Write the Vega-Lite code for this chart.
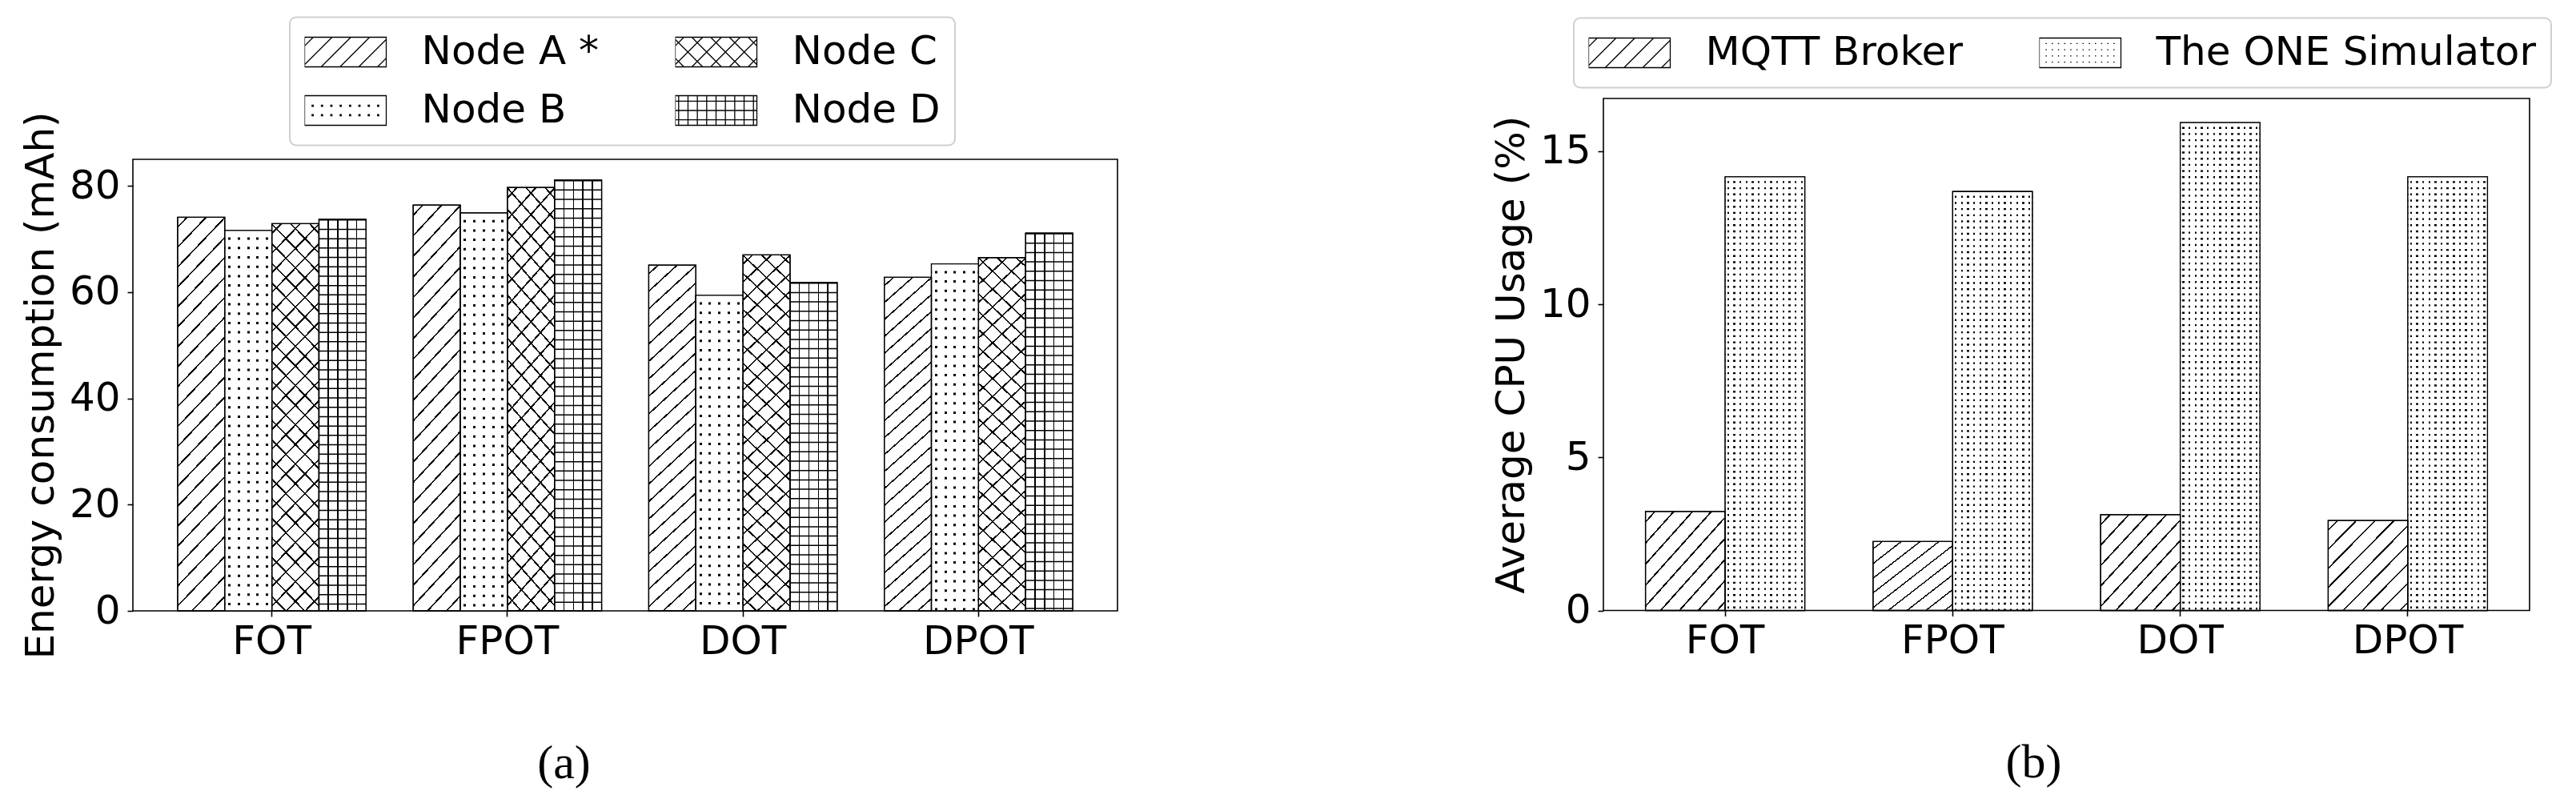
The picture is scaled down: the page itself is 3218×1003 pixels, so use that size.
{
"$schema": "https://vega.github.io/schema/vega-lite/v6.json",
"background": "white",
"padding": {"left": 25, "top": 20, "right": 5, "bottom": 5},
"config": {
  "font": "DejaVu Sans",
  "view": {"stroke": "black", "strokeWidth": 1.6},
  "axis": {"labelColor": "black", "titleColor": "black", "labelFontSize": 50, "titleFontSize": 50, "titleFontWeight": "normal", "tickColor": "black", "tickWidth": 1.6, "tickSize": 7, "domain": false, "grid": false},
  "legend": {"orient": "none", "columns": 2, "title": null, "padding": 18.5, "rowPadding": 23, "columnPadding": 95, "labelOffset": 70, "symbolOffset": 26, "clipHeight": 50, "labelFontSize": 50, "labelLimit": 0, "labelColor": "black", "strokeColor": "#cfcfcf", "strokeWidth": 2, "cornerRadius": 8, "fillColor": "white", "symbolSize": 1664.64, "symbolStrokeWidth": 1.3, "symbolStrokeColor": "black", "symbolFillColor": "white"}
},
"datasets": {
  "energy": [
    {"scheme": "FOT", "node": "Node A *", "value": 74.1},
    {"scheme": "FOT", "node": "Node B", "value": 71.6},
    {"scheme": "FOT", "node": "Node C", "value": 72.9},
    {"scheme": "FOT", "node": "Node D", "value": 73.7},
    {"scheme": "FPOT", "node": "Node A *", "value": 76.4},
    {"scheme": "FPOT", "node": "Node B", "value": 74.9},
    {"scheme": "FPOT", "node": "Node C", "value": 79.7},
    {"scheme": "FPOT", "node": "Node D", "value": 81.1},
    {"scheme": "DOT", "node": "Node A *", "value": 65.1},
    {"scheme": "DOT", "node": "Node B", "value": 59.4},
    {"scheme": "DOT", "node": "Node C", "value": 67.0},
    {"scheme": "DOT", "node": "Node D", "value": 61.8},
    {"scheme": "DPOT", "node": "Node A *", "value": 62.8},
    {"scheme": "DPOT", "node": "Node B", "value": 65.3},
    {"scheme": "DPOT", "node": "Node C", "value": 66.5},
    {"scheme": "DPOT", "node": "Node D", "value": 71.1}
  ],
  "cpu": [
    {"scheme": "FOT", "process": "MQTT Broker", "value": 3.23},
    {"scheme": "FOT", "process": "The ONE Simulator", "value": 14.16},
    {"scheme": "FPOT", "process": "MQTT Broker", "value": 2.25},
    {"scheme": "FPOT", "process": "The ONE Simulator", "value": 13.68},
    {"scheme": "DOT", "process": "MQTT Broker", "value": 3.13},
    {"scheme": "DOT", "process": "The ONE Simulator", "value": 15.93},
    {"scheme": "DPOT", "process": "MQTT Broker", "value": 2.94},
    {"scheme": "DPOT", "process": "The ONE Simulator", "value": 14.16}
  ]
},
"spacing": 465,
"resolve": {"scale": {"x": "independent", "y": "independent", "xOffset": "independent", "fill": "independent"}, "legend": {"fill": "independent"}, "axis": {"x": "independent", "y": "independent"}},
"hconcat": [
{
 "vconcat": [
 {"width": 1230, "height": 75.5, "data": {"values": []}, "mark": "point", "view": {"stroke": null}},
 {
  "width": 1230, "height": 564,
  "data": {"name": "energy"},
  "encoding": {
    "x": {"field": "scheme", "type": "nominal", "sort": ["FOT", "FPOT", "DOT", "DPOT"], "scale": {"paddingInner": 0.2, "paddingOuter": 0.19},
      "axis": {"title": "(a)", "labelAngle": 0, "labelPadding": 6, "titleFont": "Liberation Serif", "titleFontSize": 60, "titleX": 538, "titleY": 190, "titleBaseline": "middle", "titleAlign": "center"}},
    "xOffset": {"field": "node", "type": "nominal", "scale": {"domain": ["Node A *", "Node B", "Node C", "Node D"], "paddingInner": 0, "paddingOuter": 0}},
    "y": {"field": "value", "type": "quantitative", "scale": {"domain": [0, 85], "nice": false},
      "axis": {"title": "Energy consumption (mAh)", "values": [0, 20, 40, 60, 80], "labelPadding": 9, "titlePadding": 10}}
  },
  "layer": [
    {"mark": {"type": "bar", "stroke": "black", "strokeWidth": 1.3},
     "encoding": {"fill": {"field": "node", "type": "nominal",
        "scale": {"domain": ["Node A *", "Node B", "Node C", "Node D"], "range": ["white", "white", "white", "white"]},
        "legend": {"legendX": 196, "legendY": -101.5,
          "encode": {"symbols": {"update": {"fill": {"value": "white"}, "stroke": {"value": "black"}, "strokeWidth": {"value": 1.3}, "size": {"value": 1664.64},
            "shape": {"signal": "datum.value === 'Node A *' ? 'M-2.5,-0.9075H2.5V0.9075H-2.5ZM-2.5,-0.375L-1.9675,-0.9075M-2.5,0.775L-0.8175,-0.9075M-1.4825,0.9075L0.3325,-0.9075M-0.3325,0.9075L1.4825,-0.9075M0.8175,0.9075L2.5,-0.775M1.9675,0.9075L2.5,0.375' : datum.value === 'Node C' ? 'M-2.5,-0.9075H2.5V0.9075H-2.5ZM-2.5,-0.375L-1.9675,-0.9075M-2.5,0.775L-0.8175,-0.9075M-1.4825,0.9075L0.3325,-0.9075M-0.3325,0.9075L1.4825,-0.9075M0.8175,0.9075L2.5,-0.775M1.9675,0.9075L2.5,0.375M2.5,-0.375L1.9675,-0.9075M2.5,0.775L0.8175,-0.9075M1.4825,0.9075L-0.3325,-0.9075M0.3325,0.9075L-1.4825,-0.9075M-0.8175,0.9075L-2.5,-0.775M-1.9675,0.9075L-2.5,0.375' : datum.value === 'Node B' ? 'M-2.5,-0.9075H2.5V0.9075H-2.5ZM-2.0425,-0.325h0.075v0.075h-0.075zM-1.47,-0.325h0.075v0.075h-0.075zM-0.8975,-0.325h0.075v0.075h-0.075zM-0.325,-0.325h0.075v0.075h-0.075zM0.25,-0.325h0.075v0.075h-0.075zM0.8225,-0.325h0.075v0.075h-0.075zM1.395,-0.325h0.075v0.075h-0.075zM1.9675,-0.325h0.075v0.075h-0.075zM-2.0425,0.25h0.075v0.075h-0.075zM-1.47,0.25h0.075v0.075h-0.075zM-0.8975,0.25h0.075v0.075h-0.075zM-0.325,0.25h0.075v0.075h-0.075zM0.25,0.25h0.075v0.075h-0.075zM0.8225,0.25h0.075v0.075h-0.075zM1.395,0.25h0.075v0.075h-0.075zM1.9675,0.25h0.075v0.075h-0.075z' : 'M-2.5,-0.9075H2.5V0.9075H-2.5ZM-2.29,-0.9075V0.9075M-1.7175,-0.9075V0.9075M-1.145,-0.9075V0.9075M-0.5725,-0.9075V0.9075M0,-0.9075V0.9075M0.5725,-0.9075V0.9075M1.145,-0.9075V0.9075M1.7175,-0.9075V0.9075M2.29,-0.9075V0.9075M-2.5,-0.5725H2.5M-2.5,0H2.5M-2.5,0.5725H2.5'"}}}}}}}},
    {"transform": [{"filter": "datum.node === 'Node A *'"}],
     "mark": {"type": "bar", "fill": {"gradient": "linear", "x1": 0, "y1": 0, "x2": 0.139, "y2": 1.108, "stops": [
{"offset":0.0202,"color":"transparent"},{"offset":0.0202,"color":"#000"},{"offset":0.0248,"color":"#000"},{"offset":0.0248,"color":"transparent"},
{"offset":0.0652,"color":"transparent"},{"offset":0.0652,"color":"#000"},{"offset":0.0698,"color":"#000"},{"offset":0.0698,"color":"transparent"},
{"offset":0.1102,"color":"transparent"},{"offset":0.1102,"color":"#000"},{"offset":0.1148,"color":"#000"},{"offset":0.1148,"color":"transparent"},
{"offset":0.1552,"color":"transparent"},{"offset":0.1552,"color":"#000"},{"offset":0.1598,"color":"#000"},{"offset":0.1598,"color":"transparent"},
{"offset":0.2002,"color":"transparent"},{"offset":0.2002,"color":"#000"},{"offset":0.2048,"color":"#000"},{"offset":0.2048,"color":"transparent"},
{"offset":0.2452,"color":"transparent"},{"offset":0.2452,"color":"#000"},{"offset":0.2498,"color":"#000"},{"offset":0.2498,"color":"transparent"},
{"offset":0.2902,"color":"transparent"},{"offset":0.2902,"color":"#000"},{"offset":0.2948,"color":"#000"},{"offset":0.2948,"color":"transparent"},
{"offset":0.3352,"color":"transparent"},{"offset":0.3352,"color":"#000"},{"offset":0.3398,"color":"#000"},{"offset":0.3398,"color":"transparent"},
{"offset":0.3802,"color":"transparent"},{"offset":0.3802,"color":"#000"},{"offset":0.3848,"color":"#000"},{"offset":0.3848,"color":"transparent"},
{"offset":0.4252,"color":"transparent"},{"offset":0.4252,"color":"#000"},{"offset":0.4298,"color":"#000"},{"offset":0.4298,"color":"transparent"},
{"offset":0.4702,"color":"transparent"},{"offset":0.4702,"color":"#000"},{"offset":0.4748,"color":"#000"},{"offset":0.4748,"color":"transparent"},
{"offset":0.5152,"color":"transparent"},{"offset":0.5152,"color":"#000"},{"offset":0.5198,"color":"#000"},{"offset":0.5198,"color":"transparent"},
{"offset":0.5602,"color":"transparent"},{"offset":0.5602,"color":"#000"},{"offset":0.5648,"color":"#000"},{"offset":0.5648,"color":"transparent"},
{"offset":0.6052,"color":"transparent"},{"offset":0.6052,"color":"#000"},{"offset":0.6098,"color":"#000"},{"offset":0.6098,"color":"transparent"},
{"offset":0.6502,"color":"transparent"},{"offset":0.6502,"color":"#000"},{"offset":0.6548,"color":"#000"},{"offset":0.6548,"color":"transparent"},
{"offset":0.6952,"color":"transparent"},{"offset":0.6952,"color":"#000"},{"offset":0.6998,"color":"#000"},{"offset":0.6998,"color":"transparent"},
{"offset":0.7402,"color":"transparent"},{"offset":0.7402,"color":"#000"},{"offset":0.7448,"color":"#000"},{"offset":0.7448,"color":"transparent"},
{"offset":0.7852,"color":"transparent"},{"offset":0.7852,"color":"#000"},{"offset":0.7898,"color":"#000"},{"offset":0.7898,"color":"transparent"},
{"offset":0.8302,"color":"transparent"},{"offset":0.8302,"color":"#000"},{"offset":0.8348,"color":"#000"},{"offset":0.8348,"color":"transparent"},
{"offset":0.8752,"color":"transparent"},{"offset":0.8752,"color":"#000"},{"offset":0.8798,"color":"#000"},{"offset":0.8798,"color":"transparent"},
{"offset":0.9202,"color":"transparent"},{"offset":0.9202,"color":"#000"},{"offset":0.9248,"color":"#000"},{"offset":0.9248,"color":"transparent"},
{"offset":0.9652,"color":"transparent"},{"offset":0.9652,"color":"#000"},{"offset":0.9698,"color":"#000"},{"offset":0.9698,"color":"transparent"}
     ]}}},
    {"transform": [{"filter": "datum.node === 'Node B'"}],
     "mark": {"type": "bar", "fill": {"gradient": "linear", "x1": 0, "y1": 0, "x2": 1, "y2": 0, "stops": [
{"offset":0.0745,"color":"transparent"},{"offset":0.0745,"color":"#000"},{"offset":0.1255,"color":"#000"},{"offset":0.1255,"color":"transparent"},
{"offset":0.2745,"color":"transparent"},{"offset":0.2745,"color":"#000"},{"offset":0.3255,"color":"#000"},{"offset":0.3255,"color":"transparent"},
{"offset":0.4745,"color":"transparent"},{"offset":0.4745,"color":"#000"},{"offset":0.5255,"color":"#000"},{"offset":0.5255,"color":"transparent"},
{"offset":0.6745,"color":"transparent"},{"offset":0.6745,"color":"#000"},{"offset":0.7255,"color":"#000"},{"offset":0.7255,"color":"transparent"},
{"offset":0.8745,"color":"transparent"},{"offset":0.8745,"color":"#000"},{"offset":0.9255,"color":"#000"},{"offset":0.9255,"color":"transparent"}
     ]}}},
    {"transform": [{"filter": "datum.node === 'Node B'"}],
     "mark": {"type": "rule", "color": "white", "strokeWidth": 58.85, "strokeDash": [8.7, 3.0], "strokeCap": "butt"},
     "encoding": {"y2": {"datum": 0}}},
    {"transform": [{"filter": "datum.node === 'Node C'"}],
     "mark": {"type": "bar", "fill": {"gradient": "linear", "x1": 0, "y1": 0, "x2": 0.139, "y2": 1.108, "stops": [
{"offset":0.0202,"color":"transparent"},{"offset":0.0202,"color":"#000"},{"offset":0.0248,"color":"#000"},{"offset":0.0248,"color":"transparent"},
{"offset":0.0652,"color":"transparent"},{"offset":0.0652,"color":"#000"},{"offset":0.0698,"color":"#000"},{"offset":0.0698,"color":"transparent"},
{"offset":0.1102,"color":"transparent"},{"offset":0.1102,"color":"#000"},{"offset":0.1148,"color":"#000"},{"offset":0.1148,"color":"transparent"},
{"offset":0.1552,"color":"transparent"},{"offset":0.1552,"color":"#000"},{"offset":0.1598,"color":"#000"},{"offset":0.1598,"color":"transparent"},
{"offset":0.2002,"color":"transparent"},{"offset":0.2002,"color":"#000"},{"offset":0.2048,"color":"#000"},{"offset":0.2048,"color":"transparent"},
{"offset":0.2452,"color":"transparent"},{"offset":0.2452,"color":"#000"},{"offset":0.2498,"color":"#000"},{"offset":0.2498,"color":"transparent"},
{"offset":0.2902,"color":"transparent"},{"offset":0.2902,"color":"#000"},{"offset":0.2948,"color":"#000"},{"offset":0.2948,"color":"transparent"},
{"offset":0.3352,"color":"transparent"},{"offset":0.3352,"color":"#000"},{"offset":0.3398,"color":"#000"},{"offset":0.3398,"color":"transparent"},
{"offset":0.3802,"color":"transparent"},{"offset":0.3802,"color":"#000"},{"offset":0.3848,"color":"#000"},{"offset":0.3848,"color":"transparent"},
{"offset":0.4252,"color":"transparent"},{"offset":0.4252,"color":"#000"},{"offset":0.4298,"color":"#000"},{"offset":0.4298,"color":"transparent"},
{"offset":0.4702,"color":"transparent"},{"offset":0.4702,"color":"#000"},{"offset":0.4748,"color":"#000"},{"offset":0.4748,"color":"transparent"},
{"offset":0.5152,"color":"transparent"},{"offset":0.5152,"color":"#000"},{"offset":0.5198,"color":"#000"},{"offset":0.5198,"color":"transparent"},
{"offset":0.5602,"color":"transparent"},{"offset":0.5602,"color":"#000"},{"offset":0.5648,"color":"#000"},{"offset":0.5648,"color":"transparent"},
{"offset":0.6052,"color":"transparent"},{"offset":0.6052,"color":"#000"},{"offset":0.6098,"color":"#000"},{"offset":0.6098,"color":"transparent"},
{"offset":0.6502,"color":"transparent"},{"offset":0.6502,"color":"#000"},{"offset":0.6548,"color":"#000"},{"offset":0.6548,"color":"transparent"},
{"offset":0.6952,"color":"transparent"},{"offset":0.6952,"color":"#000"},{"offset":0.6998,"color":"#000"},{"offset":0.6998,"color":"transparent"},
{"offset":0.7402,"color":"transparent"},{"offset":0.7402,"color":"#000"},{"offset":0.7448,"color":"#000"},{"offset":0.7448,"color":"transparent"},
{"offset":0.7852,"color":"transparent"},{"offset":0.7852,"color":"#000"},{"offset":0.7898,"color":"#000"},{"offset":0.7898,"color":"transparent"},
{"offset":0.8302,"color":"transparent"},{"offset":0.8302,"color":"#000"},{"offset":0.8348,"color":"#000"},{"offset":0.8348,"color":"transparent"},
{"offset":0.8752,"color":"transparent"},{"offset":0.8752,"color":"#000"},{"offset":0.8798,"color":"#000"},{"offset":0.8798,"color":"transparent"},
{"offset":0.9202,"color":"transparent"},{"offset":0.9202,"color":"#000"},{"offset":0.9248,"color":"#000"},{"offset":0.9248,"color":"transparent"},
{"offset":0.9652,"color":"transparent"},{"offset":0.9652,"color":"#000"},{"offset":0.9698,"color":"#000"},{"offset":0.9698,"color":"transparent"}
     ]}}},
    {"transform": [{"filter": "datum.node === 'Node C'"}],
     "mark": {"type": "bar", "fill": {"gradient": "linear", "x1": 1, "y1": 0, "x2": 0.861, "y2": 1.108, "stops": [
{"offset":0.0202,"color":"transparent"},{"offset":0.0202,"color":"#000"},{"offset":0.0248,"color":"#000"},{"offset":0.0248,"color":"transparent"},
{"offset":0.0652,"color":"transparent"},{"offset":0.0652,"color":"#000"},{"offset":0.0698,"color":"#000"},{"offset":0.0698,"color":"transparent"},
{"offset":0.1102,"color":"transparent"},{"offset":0.1102,"color":"#000"},{"offset":0.1148,"color":"#000"},{"offset":0.1148,"color":"transparent"},
{"offset":0.1552,"color":"transparent"},{"offset":0.1552,"color":"#000"},{"offset":0.1598,"color":"#000"},{"offset":0.1598,"color":"transparent"},
{"offset":0.2002,"color":"transparent"},{"offset":0.2002,"color":"#000"},{"offset":0.2048,"color":"#000"},{"offset":0.2048,"color":"transparent"},
{"offset":0.2452,"color":"transparent"},{"offset":0.2452,"color":"#000"},{"offset":0.2498,"color":"#000"},{"offset":0.2498,"color":"transparent"},
{"offset":0.2902,"color":"transparent"},{"offset":0.2902,"color":"#000"},{"offset":0.2948,"color":"#000"},{"offset":0.2948,"color":"transparent"},
{"offset":0.3352,"color":"transparent"},{"offset":0.3352,"color":"#000"},{"offset":0.3398,"color":"#000"},{"offset":0.3398,"color":"transparent"},
{"offset":0.3802,"color":"transparent"},{"offset":0.3802,"color":"#000"},{"offset":0.3848,"color":"#000"},{"offset":0.3848,"color":"transparent"},
{"offset":0.4252,"color":"transparent"},{"offset":0.4252,"color":"#000"},{"offset":0.4298,"color":"#000"},{"offset":0.4298,"color":"transparent"},
{"offset":0.4702,"color":"transparent"},{"offset":0.4702,"color":"#000"},{"offset":0.4748,"color":"#000"},{"offset":0.4748,"color":"transparent"},
{"offset":0.5152,"color":"transparent"},{"offset":0.5152,"color":"#000"},{"offset":0.5198,"color":"#000"},{"offset":0.5198,"color":"transparent"},
{"offset":0.5602,"color":"transparent"},{"offset":0.5602,"color":"#000"},{"offset":0.5648,"color":"#000"},{"offset":0.5648,"color":"transparent"},
{"offset":0.6052,"color":"transparent"},{"offset":0.6052,"color":"#000"},{"offset":0.6098,"color":"#000"},{"offset":0.6098,"color":"transparent"},
{"offset":0.6502,"color":"transparent"},{"offset":0.6502,"color":"#000"},{"offset":0.6548,"color":"#000"},{"offset":0.6548,"color":"transparent"},
{"offset":0.6952,"color":"transparent"},{"offset":0.6952,"color":"#000"},{"offset":0.6998,"color":"#000"},{"offset":0.6998,"color":"transparent"},
{"offset":0.7402,"color":"transparent"},{"offset":0.7402,"color":"#000"},{"offset":0.7448,"color":"#000"},{"offset":0.7448,"color":"transparent"},
{"offset":0.7852,"color":"transparent"},{"offset":0.7852,"color":"#000"},{"offset":0.7898,"color":"#000"},{"offset":0.7898,"color":"transparent"},
{"offset":0.8302,"color":"transparent"},{"offset":0.8302,"color":"#000"},{"offset":0.8348,"color":"#000"},{"offset":0.8348,"color":"transparent"},
{"offset":0.8752,"color":"transparent"},{"offset":0.8752,"color":"#000"},{"offset":0.8798,"color":"#000"},{"offset":0.8798,"color":"transparent"},
{"offset":0.9202,"color":"transparent"},{"offset":0.9202,"color":"#000"},{"offset":0.9248,"color":"#000"},{"offset":0.9248,"color":"transparent"},
{"offset":0.9652,"color":"transparent"},{"offset":0.9652,"color":"#000"},{"offset":0.9698,"color":"#000"},{"offset":0.9698,"color":"transparent"}
     ]}}},
    {"transform": [{"filter": "datum.node === 'Node D'"}],
     "mark": {"type": "bar", "fill": {"gradient": "linear", "x1": 0, "y1": 0, "x2": 1, "y2": 0, "stops": [
{"offset":0.1873,"color":"transparent"},{"offset":0.1873,"color":"#000"},{"offset":0.2127,"color":"#000"},{"offset":0.2127,"color":"transparent"},
{"offset":0.3873,"color":"transparent"},{"offset":0.3873,"color":"#000"},{"offset":0.4127,"color":"#000"},{"offset":0.4127,"color":"transparent"},
{"offset":0.5873,"color":"transparent"},{"offset":0.5873,"color":"#000"},{"offset":0.6127,"color":"#000"},{"offset":0.6127,"color":"transparent"},
{"offset":0.7873,"color":"transparent"},{"offset":0.7873,"color":"#000"},{"offset":0.8127,"color":"#000"},{"offset":0.8127,"color":"transparent"}
     ]}}},
    {"transform": [{"filter": "datum.node === 'Node D'"}],
     "mark": {"type": "rule", "color": "black", "strokeWidth": 58.85, "strokeDash": [1.5, 10.2], "strokeCap": "butt"},
     "encoding": {"y2": {"datum": 0}}},
    {"mark": {"type": "bar", "fill": "transparent", "stroke": "black", "strokeWidth": 1.3}}
  ]
 }
 ],
 "spacing": 0,
 "bounds": "flush"
},
{
  "width": 1157, "height": 639.5,
  "data": {"name": "cpu"},
  "encoding": {
    "x": {"field": "scheme", "type": "nominal", "sort": ["FOT", "FPOT", "DOT", "DPOT"], "scale": {"paddingInner": 0.3, "paddingOuter": 0.185},
      "axis": {"title": "(b)", "labelAngle": 0, "labelPadding": 6, "titleFont": "Liberation Serif", "titleFontSize": 60, "titleX": 537, "titleY": 190, "titleBaseline": "middle", "titleAlign": "center"}},
    "xOffset": {"field": "process", "type": "nominal", "scale": {"domain": ["MQTT Broker", "The ONE Simulator"], "paddingInner": 0, "paddingOuter": 0}},
    "y": {"field": "value", "type": "quantitative", "scale": {"domain": [0, 16.72], "nice": false},
      "axis": {"title": "Average CPU Usage (%)", "values": [0, 5, 10, 15], "labelPadding": 9, "titlePadding": 10}}
  },
  "layer": [
    {"mark": {"type": "bar", "stroke": "black", "strokeWidth": 1.3},
     "encoding": {"fill": {"field": "process", "type": "nominal",
        "scale": {"domain": ["MQTT Broker", "The ONE Simulator"], "range": ["white", "white"]},
        "legend": {"legendX": -37, "legendY": -100.5,
          "encode": {"symbols": {"update": {"fill": {"value": "white"}, "stroke": {"value": "black"}, "strokeWidth": {"value": 1.3}, "size": {"value": 1664.64},
            "shape": {"signal": "datum.value === 'MQTT Broker' ? 'M-2.5,-0.9075H2.5V0.9075H-2.5ZM-2.5,-0.375L-1.9675,-0.9075M-2.5,0.775L-0.8175,-0.9075M-1.4825,0.9075L0.3325,-0.9075M-0.3325,0.9075L1.4825,-0.9075M0.8175,0.9075L2.5,-0.775M1.9675,0.9075L2.5,0.375' : 'M-2.5,-0.9075H2.5V0.9075H-2.5ZM-2.1125,-0.565h0.075M-1.735,-0.565h0.075M-1.3575,-0.565h0.075M-0.98,-0.565h0.075M-0.6025,-0.565h0.075M-0.225,-0.565h0.075M0.15,-0.565h0.075M0.5275,-0.565h0.075M0.905,-0.565h0.075M1.2825,-0.565h0.075M1.66,-0.565h0.075M2.0375,-0.565h0.075M-2.1125,-0.1875h0.075M-1.735,-0.1875h0.075M-1.3575,-0.1875h0.075M-0.98,-0.1875h0.075M-0.6025,-0.1875h0.075M-0.225,-0.1875h0.075M0.15,-0.1875h0.075M0.5275,-0.1875h0.075M0.905,-0.1875h0.075M1.2825,-0.1875h0.075M1.66,-0.1875h0.075M2.0375,-0.1875h0.075M-2.1125,0.1875h0.075M-1.735,0.1875h0.075M-1.3575,0.1875h0.075M-0.98,0.1875h0.075M-0.6025,0.1875h0.075M-0.225,0.1875h0.075M0.15,0.1875h0.075M0.5275,0.1875h0.075M0.905,0.1875h0.075M1.2825,0.1875h0.075M1.66,0.1875h0.075M2.0375,0.1875h0.075M-2.1125,0.565h0.075M-1.735,0.565h0.075M-1.3575,0.565h0.075M-0.98,0.565h0.075M-0.6025,0.565h0.075M-0.225,0.565h0.075M0.15,0.565h0.075M0.5275,0.565h0.075M0.905,0.565h0.075M1.2825,0.565h0.075M1.66,0.565h0.075M2.0375,0.565h0.075'"}}}}}}}},
    {"transform": [{"filter": "datum.process === 'MQTT Broker'"}],
     "mark": {"type": "bar", "fill": {"gradient": "linear", "x1": 0, "y1": 0, "x2": 0.945, "y2": 1.05, "stops": [
{"offset":0.0503,"color":"transparent"},{"offset":0.0503,"color":"#000"},{"offset":0.0617,"color":"#000"},{"offset":0.0617,"color":"transparent"},
{"offset":0.1623,"color":"transparent"},{"offset":0.1623,"color":"#000"},{"offset":0.1737,"color":"#000"},{"offset":0.1737,"color":"transparent"},
{"offset":0.2743,"color":"transparent"},{"offset":0.2743,"color":"#000"},{"offset":0.2857,"color":"#000"},{"offset":0.2857,"color":"transparent"},
{"offset":0.3863,"color":"transparent"},{"offset":0.3863,"color":"#000"},{"offset":0.3977,"color":"#000"},{"offset":0.3977,"color":"transparent"},
{"offset":0.4983,"color":"transparent"},{"offset":0.4983,"color":"#000"},{"offset":0.5097,"color":"#000"},{"offset":0.5097,"color":"transparent"},
{"offset":0.6103,"color":"transparent"},{"offset":0.6103,"color":"#000"},{"offset":0.6217,"color":"#000"},{"offset":0.6217,"color":"transparent"},
{"offset":0.7223,"color":"transparent"},{"offset":0.7223,"color":"#000"},{"offset":0.7337,"color":"#000"},{"offset":0.7337,"color":"transparent"},
{"offset":0.8343,"color":"transparent"},{"offset":0.8343,"color":"#000"},{"offset":0.8457,"color":"#000"},{"offset":0.8457,"color":"transparent"},
{"offset":0.9463,"color":"transparent"},{"offset":0.9463,"color":"#000"},{"offset":0.9577,"color":"#000"},{"offset":0.9577,"color":"transparent"}
     ]}}},
    {"transform": [{"filter": "datum.process === 'The ONE Simulator'"}],
     "mark": {"type": "bar", "fill": {"gradient": "linear", "x1": 0, "y1": 0, "x2": 1, "y2": 0, "stops": [
{"offset":0.0265,"color":"transparent"},{"offset":0.0265,"color":"#000"},{"offset":0.0505,"color":"#000"},{"offset":0.0505,"color":"transparent"},
{"offset":0.1034,"color":"transparent"},{"offset":0.1034,"color":"#000"},{"offset":0.1274,"color":"#000"},{"offset":0.1274,"color":"transparent"},
{"offset":0.1803,"color":"transparent"},{"offset":0.1803,"color":"#000"},{"offset":0.2043,"color":"#000"},{"offset":0.2043,"color":"transparent"},
{"offset":0.2572,"color":"transparent"},{"offset":0.2572,"color":"#000"},{"offset":0.2812,"color":"#000"},{"offset":0.2812,"color":"transparent"},
{"offset":0.3342,"color":"transparent"},{"offset":0.3342,"color":"#000"},{"offset":0.3582,"color":"#000"},{"offset":0.3582,"color":"transparent"},
{"offset":0.4111,"color":"transparent"},{"offset":0.4111,"color":"#000"},{"offset":0.4351,"color":"#000"},{"offset":0.4351,"color":"transparent"},
{"offset":0.488,"color":"transparent"},{"offset":0.488,"color":"#000"},{"offset":0.512,"color":"#000"},{"offset":0.512,"color":"transparent"},
{"offset":0.5649,"color":"transparent"},{"offset":0.5649,"color":"#000"},{"offset":0.5889,"color":"#000"},{"offset":0.5889,"color":"transparent"},
{"offset":0.6418,"color":"transparent"},{"offset":0.6418,"color":"#000"},{"offset":0.6658,"color":"#000"},{"offset":0.6658,"color":"transparent"},
{"offset":0.7188,"color":"transparent"},{"offset":0.7188,"color":"#000"},{"offset":0.7428,"color":"#000"},{"offset":0.7428,"color":"transparent"},
{"offset":0.7957,"color":"transparent"},{"offset":0.7957,"color":"#000"},{"offset":0.8197,"color":"#000"},{"offset":0.8197,"color":"transparent"},
{"offset":0.8726,"color":"transparent"},{"offset":0.8726,"color":"#000"},{"offset":0.8966,"color":"#000"},{"offset":0.8966,"color":"transparent"},
{"offset":0.9495,"color":"transparent"},{"offset":0.9495,"color":"#000"},{"offset":0.9735,"color":"#000"},{"offset":0.9735,"color":"transparent"}
     ]}}},
    {"transform": [{"filter": "datum.process === 'The ONE Simulator'"}],
     "mark": {"type": "rule", "color": "white", "strokeWidth": 99.5, "strokeDash": [5.3, 2.4], "strokeCap": "butt"},
     "encoding": {"y2": {"datum": 0}}},
    {"mark": {"type": "bar", "fill": "transparent", "stroke": "black", "strokeWidth": 1.3}}
  ]
}
]
}
